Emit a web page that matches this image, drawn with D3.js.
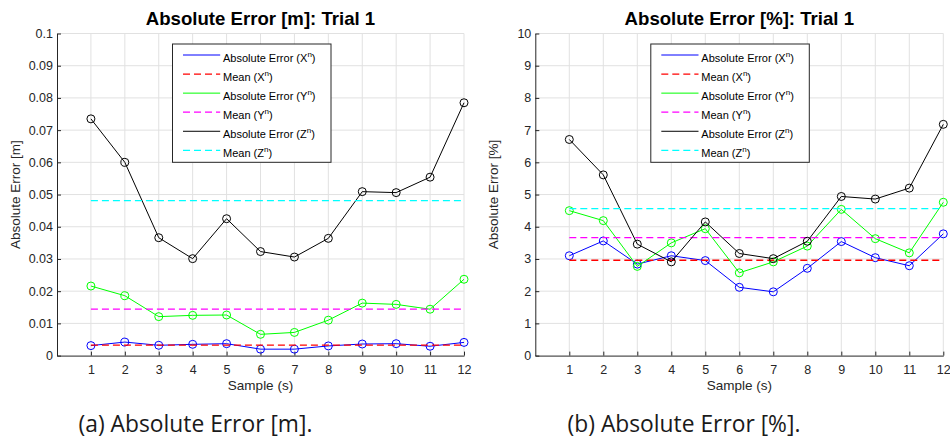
<!DOCTYPE html>
<html lang="en">
<head>
<meta charset="utf-8">
<title>Absolute Error: Trial 1</title>
<script src="https://d3js.org/d3.v7.min.js"></script>
<style>
    body { margin: 0; background: #fff; }
    svg { font-family: "Liberation Sans", Arial, Helvetica, sans-serif; }
    .axis path, .axis line { stroke: #262626; }
    .axis text { fill: #262626; font-size: 12.5px; font-family: "Liberation Sans", Arial, sans-serif; }
    .caption { font-family: "Open Sans", Lato, sans-serif; fill: #1a1a1a; }
</style>
</head>
<body>
<svg id="chart" width="950" height="438"></svg>
<script>
// Sample index on the x axis
const samples = [1, 2, 3, 4, 5, 6, 7, 8, 9, 10, 11, 12];

// Panel (a): absolute error in metres
const errXm = [0.0031, 0.0042, 0.0032, 0.0035, 0.0037, 0.0020, 0.0020, 0.0030, 0.0036, 0.0037, 0.0029, 0.0041];
const errYm = [0.0216, 0.0186, 0.0121, 0.0125, 0.0126, 0.0066, 0.0072, 0.0110, 0.0163, 0.0159, 0.0144, 0.0237];
const errZm = [0.0735, 0.0600, 0.0366, 0.0301, 0.0425, 0.0323, 0.0306, 0.0364, 0.0509, 0.0506, 0.0554, 0.0785];
const meansM = [0.00325, 0.0144, 0.0481];   // X, Y, Z
const yTicksM = [0, 0.01, 0.02, 0.03, 0.04, 0.05, 0.06, 0.07, 0.08, 0.09, 0.1];

// Panel (b): absolute error in percent
const errXp = [3.10, 3.56, 2.84, 3.10, 2.95, 2.12, 1.98, 2.71, 3.54, 3.04, 2.79, 3.78];
const errYp = [4.50, 4.19, 2.77, 3.50, 3.94, 2.57, 2.91, 3.40, 4.54, 3.63, 3.19, 4.76];
const errZp = [6.71, 5.61, 3.46, 2.91, 4.15, 3.17, 3.01, 3.55, 4.94, 4.86, 5.20, 7.18];
const meansP = [2.96, 3.66, 4.56];
const yTicksP = [0, 1, 2, 3, 4, 5, 6, 7, 8, 9, 10];

// legend entries (label base + superscript)
const legendLabels = [
    ["Absolute Error (X", "n", ")"],
    ["Mean (X", "n", ")"],
    ["Absolute Error (Y", "n", ")"],
    ["Mean (Y", "n", ")"],
    ["Absolute Error (Z", "n", ")"],
    ["Mean (Z", "n", ")"]
];

const svg = d3.select("#chart");

function drawPanel(opt) {
    const g = svg.append("g");
    const x = d3.scaleLinear().domain([0, 12]).range([opt.left, opt.right]);
    const y = d3.scaleLinear().domain([0, opt.yMax]).range([opt.bottom, opt.top]);

    // grid
    g.append("g").selectAll("line").data(opt.yTicks.slice(1)).join("line")
        .attr("x1", opt.left).attr("x2", opt.right)
        .attr("y1", d => y(d)).attr("y2", d => y(d))
        .attr("stroke", "#e1e1e1");
    g.append("g").selectAll("line").data(samples).join("line")
        .attr("x1", d => x(d)).attr("x2", d => x(d))
        .attr("y1", opt.top).attr("y2", opt.bottom)
        .attr("stroke", "#e1e1e1");

    // axes, ticks pointing inward
    g.append("g").attr("class", "axis")
        .attr("transform", `translate(${opt.left},0)`)
        .call(d3.axisLeft(y).tickValues(opt.yTicks).tickFormat(d => String(d))
            .tickSizeInner(-4).tickSizeOuter(0).tickPadding(4));
    g.append("g").attr("class", "axis")
        .attr("transform", `translate(0,${opt.bottom})`)
        .call(d3.axisBottom(x).tickValues(samples).tickFormat(d => String(d))
            .tickSizeInner(-4).tickSizeOuter(0).tickPadding(10));
    g.selectAll(".axis .domain").attr("stroke-width", 1);

    // series in plotting order: X, mean X, Y, mean Y, Z, mean Z
    const series = [
        {vals: opt.errX, color: "#0000ff"},
        {mean: opt.means[0], color: "#ff0000"},
        {vals: opt.errY, color: "#00ff00"},
        {mean: opt.means[1], color: "#ff00ff"},
        {vals: opt.errZ, color: "#000000"},
        {mean: opt.means[2], color: "#00ffff"}
    ];
    const line = d3.line().x((d, i) => x(samples[i])).y(d => y(d));
    series.forEach(s => {
        if (s.vals) {
            g.append("path").attr("d", line(s.vals))
                .attr("fill", "none").attr("stroke", s.color).attr("stroke-width", 1);
            g.append("g").selectAll("circle").data(s.vals).join("circle")
                .attr("cx", (d, i) => x(samples[i])).attr("cy", d => y(d))
                .attr("r", 4).attr("fill", "none")
                .attr("stroke", s.color).attr("stroke-width", 1);
        } else {
            g.append("line")
                .attr("x1", x(samples[0])).attr("x2", x(samples[samples.length - 1]))
                .attr("y1", y(s.mean)).attr("y2", y(s.mean))
                .attr("stroke", s.color).attr("stroke-width", 1.3)
                .attr("stroke-dasharray", "7,4");
        }
    });

    // title and axis labels
    const cx = (opt.left + opt.right) / 2;
    g.append("text").attr("x", cx).attr("y", 25)
        .attr("text-anchor", "middle").attr("font-size", 18.6).attr("font-weight", "bold")
        .attr("fill", "#000").text(opt.title);
    g.append("text").attr("x", cx).attr("y", 390)
        .attr("text-anchor", "middle").attr("font-size", 13.5)
        .attr("fill", "#262626").text("Sample (s)");
    g.append("text")
        .attr("transform", `translate(${opt.left - 37},${(opt.top + opt.bottom) / 2}) rotate(-90)`)
        .attr("text-anchor", "middle").attr("font-size", 13.5)
        .attr("fill", "#262626").text(opt.ylabel);

    // legend
    const lx = opt.left + 115.5, ly = 44;
    const lg = g.append("g");
    lg.append("rect").attr("x", lx).attr("y", ly).attr("width", 158.5).attr("height", 118.3)
        .attr("fill", "#fff").attr("stroke", "#262626").attr("stroke-width", 1);
    series.forEach((s, i) => {
        const yy = ly + 11 + i * 19.07;
        lg.append("line").attr("x1", lx + 10.5).attr("x2", lx + 47.7)
            .attr("y1", yy).attr("y2", yy)
            .attr("stroke", s.color).attr("stroke-width", s.vals ? 1 : 1.3)
            .attr("stroke-dasharray", s.vals ? null : "7,4");
        const t = lg.append("text").attr("x", lx + 50.5).attr("y", yy + 7)
            .attr("font-size", 11).attr("fill", "#000");
        t.append("tspan").text(legendLabels[i][0]);
        t.append("tspan").attr("dy", -5).attr("font-size", 8).text(legendLabels[i][1]);
        t.append("tspan").attr("dy", 5).text(legendLabels[i][2]);
    });

    // sub-figure caption
    svg.append("text").attr("class", "caption")
        .attr("x", opt.captionX).attr("y", 431.5)
        .attr("text-anchor", "middle").attr("font-size", 22.8)
        .text(opt.caption);
}

drawPanel({
    left: 57, right: 464, top: 33.5, bottom: 355.6, yMax: 0.1,
    yTicks: yTicksM, errX: errXm, errY: errYm, errZ: errZm, means: meansM,
    title: "Absolute Error [m]: Trial 1", ylabel: "Absolute Error [m]",
    caption: "(a) Absolute Error [m].", captionX: 195.5
});
drawPanel({
    left: 535.3, right: 943.3, top: 33.5, bottom: 355.6, yMax: 10,
    yTicks: yTicksP, errX: errXp, errY: errYp, errZ: errZp, means: meansP,
    title: "Absolute Error [%]: Trial 1", ylabel: "Absolute Error [%]",
    caption: "(b) Absolute Error [%].", captionX: 684
});
</script>
</body>
</html>
